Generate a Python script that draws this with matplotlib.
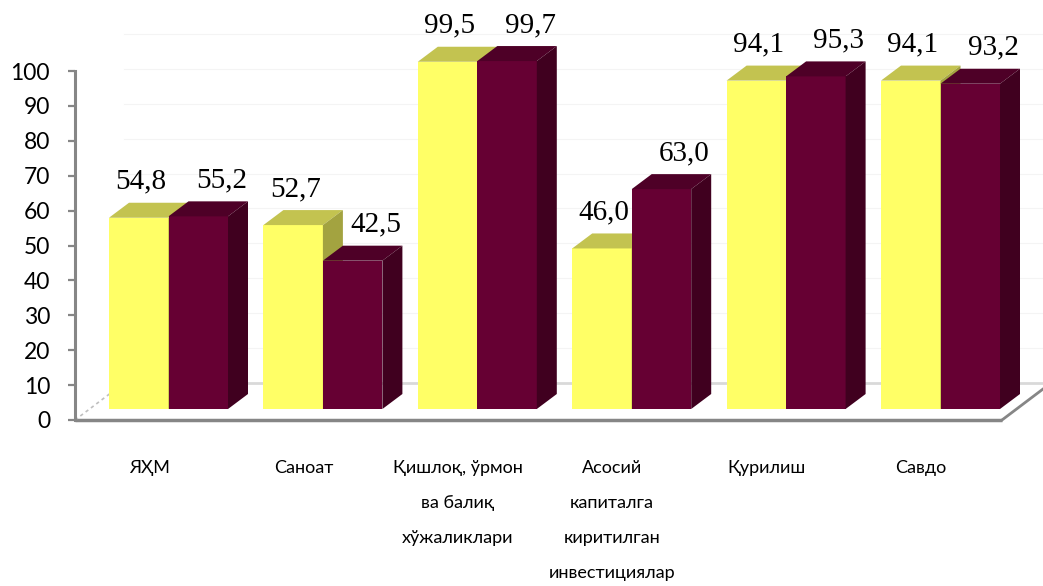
import matplotlib
matplotlib.use('Agg')
import matplotlib.pyplot as plt
from matplotlib.patches import Polygon, Rectangle

# ---------------- data ----------------
categories = ['ЯҲМ', 'Саноат', 'Қишлоқ, ўрмон\nва балиқ\nхўжаликлари',
              'Асосий\nкапиталга\nкиритилган\nинвестициялар', 'Қурилиш', 'Савдо']
series1 = [54.8, 52.7, 99.5, 46.0, 94.1, 94.1]
series2 = [55.2, 42.5, 99.7, 63.0, 95.3, 93.2]
yticks = [0, 10, 20, 30, 40, 50, 60, 70, 80, 90, 100]

# ---------------- styling / geometry (pixels) ----------------
W, H = 1043, 586
ax_left, ax_right = 75, 1043
y0_px, y100_px = 420, 71
cat_px = 154.4          # category spacing
start_px = 34           # first bar offset from axis
bw_px = 59.5            # bar width
dx_px, dy_px = 20, 15   # bar depth offsets
base_px = 11            # bar lift above floor front edge
floor_dx, floor_dy = 49, 37

front = ['#FFFF66', '#660033']
top = ['#C3C350', '#4E0027']
side = ['#A3A340', '#40001F']

fig = plt.figure(figsize=(W / 100, H / 100), dpi=100)
ax = fig.add_axes([ax_left / W, (H - y0_px) / H, (ax_right - ax_left) / W,
                   (y0_px - y100_px) / H])
ax.set_ylim(0, 100)
ax.set_xlim(0, ax_right - ax_left)   # x data units in pixels of axis width
ux = 1.0
uy = 100.0 / (y0_px - y100_px)       # value units per pixel

for s in ['top', 'right', 'bottom']:
    ax.spines[s].set_visible(False)
ax.spines['left'].set_color('#868686')
ax.spines['left'].set_linewidth(2.2)
ax.set_xticks([])
ax.set_yticks(yticks)
ax.tick_params(axis='y', length=5, width=1.6, color='#868686', pad=13,
               labelsize=16.5, labelcolor='black')
for lab in ax.get_yticklabels():
    lab.set_fontfamily('Lato')

# back wall faint gridlines
for t in yticks[1:]:
    yy = t + floor_dy * uy
    ax.plot([floor_dx, ax_right - ax_left + 50], [yy, yy], color='#F4F4F4',
            lw=0.8, clip_on=False, zorder=0)

# floor
fx_end = 1002 - ax_left
ax.plot([0, fx_end], [0, 0], color='#868686', lw=2.5, clip_on=False, zorder=1,
        solid_capstyle='butt')
ax.plot([fx_end, fx_end + floor_dx * 1.2], [0, floor_dy * 1.2 * uy], color='#868686',
        lw=2.0, clip_on=False, zorder=1)
ax.plot([0, floor_dx], [0, floor_dy * uy], color='#BFBFBF', lw=1.2, ls=(0, (2, 2)),
        clip_on=False, zorder=1)
ax.plot([floor_dx, fx_end + floor_dx + 40], [floor_dy * uy, floor_dy * uy],
        color='#D9D9D9', lw=2.0, clip_on=False, zorder=1)

base = base_px * uy
dx = dx_px * ux
dy = dy_px * uy


def fmt(v):
    return f'{v:.1f}'.replace('.', ',')


z = 3
for i, cat in enumerate(categories):
    gx = start_px + i * cat_px
    for s, vals in enumerate([series1, series2]):
        v = vals[i]
        x0 = gx + s * bw_px
        x1 = x0 + bw_px
        yb = base
        yt = base + v
        ax.add_patch(Rectangle((x0, yb), bw_px, v, facecolor=front[s], edgecolor='none',
                               clip_on=False, zorder=z))
        ax.add_patch(Polygon([(x0, yt), (x1, yt), (x1 + dx, yt + dy), (x0 + dx, yt + dy)],
                             closed=True, facecolor=top[s], edgecolor='none',
                             clip_on=False, zorder=z))
        ax.add_patch(Polygon([(x1, yb), (x1, yt), (x1 + dx, yt + dy), (x1 + dx, yb + dy)],
                             closed=True, facecolor=side[s], edgecolor='none',
                             clip_on=False, zorder=z))
        z += 1
        lx = (x0 + x1) / 2 + (2 if s == 0 else 23)
        ly = yt + dy + 21 * uy
        ax.text(lx, ly, fmt(v), ha='center', va='center', fontsize=21,
                family='Liberation Serif', color='black', clip_on=False, zorder=50)
    # category label lines
    cx = gx + 40
    for k, line in enumerate(cat.split('\n')):
        ypx = 468 + k * 35
        ax.text(cx, (y0_px - ypx) * uy, line, ha='center', va='center', fontsize=13,
                family='Lato', color='black', clip_on=False)

fig.savefig('out.png', dpi=100)
